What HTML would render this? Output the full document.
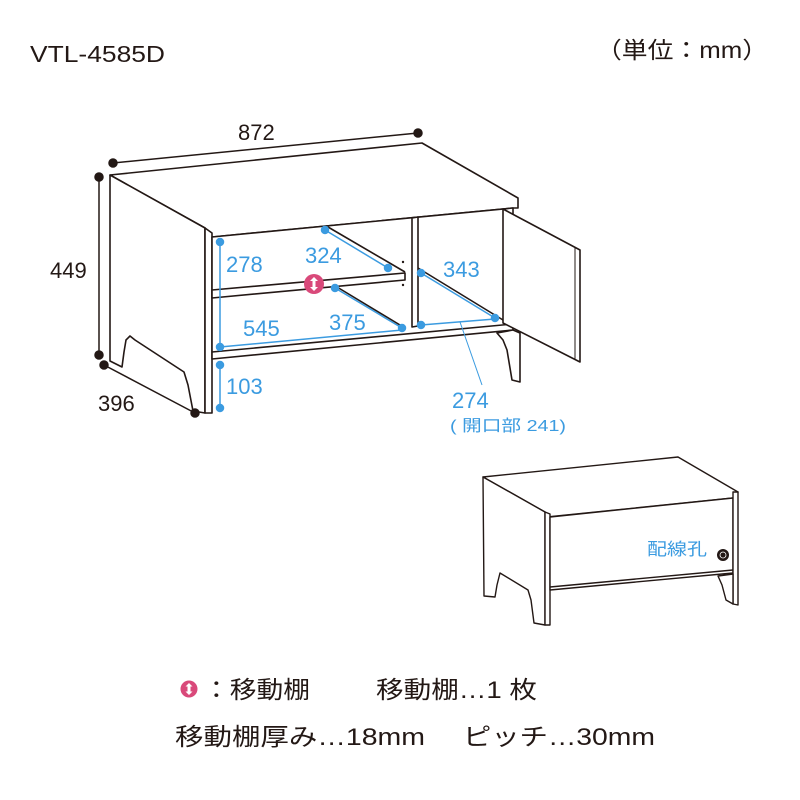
<!DOCTYPE html>
<html><head><meta charset="utf-8"><style>
html,body{margin:0;padding:0;background:#fff;width:800px;height:800px;overflow:hidden}
svg{display:block}
text{font-family:"Liberation Sans","Noto Sans CJK JP",sans-serif}
</style></head><body>
<svg width="800" height="800" viewBox="0 0 800 800" xmlns="http://www.w3.org/2000/svg">
<g fill="#231815" font-size="23">
<text x="30" y="62" textLength="135" lengthAdjust="spacingAndGlyphs">VTL-4585D</text>
<text x="596" y="58" textLength="172" lengthAdjust="spacingAndGlyphs">（単位：mm）</text>
</g>
<!-- main cabinet -->
<g fill="#fff" stroke="#231815" stroke-width="1.6" stroke-linejoin="round">
<polygon points="110,175 422,143 518,198 518,208 513,208 212,237 205,228"/>
<polygon points="110,175 205,228 205,413 193,411 188,385 184,372 135,340 130,336 126,340 124,352 122,367 110,361"/>
<polygon points="205,228 212,233 212,413 205,413"/>
<polygon points="212,237 513,208 513,330 212,359"/>
<polyline points="328,227 405,272" fill="none"/>
<polyline points="337,287 405,328" fill="none"/>
<polyline points="418,268 503,320" fill="none"/>
<polygon points="212,290 405,273 405,280 212,298"/>
<polygon points="412,218 418,217 418,326 412,327"/>
<polyline points="212,352 513,324" fill="none"/>
<polygon points="497,333 513,330 520,333 520,382 512,380 507,350 503,340"/>
<polygon points="503,209 580,250 580,362 503,323"/>
<polyline points="575,248 575,360" fill="none" stroke-width="1"/>
</g>
<circle cx="403" cy="262" r="1.2" fill="#231815"/><circle cx="403" cy="285" r="1.2" fill="#231815"/>
<!-- black dims -->
<g stroke="#231815" stroke-width="1.5" fill="#231815">
<line x1="113" y1="163" x2="418" y2="133"/>
<circle cx="113" cy="163" r="4"/><circle cx="418" cy="133" r="4"/>
<line x1="99" y1="177" x2="99" y2="355"/>
<circle cx="99" cy="177" r="4"/><circle cx="99" cy="355" r="4"/>
<line x1="104" y1="365" x2="195" y2="413"/>
<circle cx="104" cy="365" r="4"/><circle cx="195" cy="413" r="4"/>
</g>
<g fill="#231815" font-size="22">
<text x="238" y="140">872</text>
<text x="50" y="278">449</text>
<text x="98" y="411">396</text>
</g>
<!-- blue dims -->
<g stroke="#3b9be0" stroke-width="1.5" fill="#3b9be0">
<line x1="220" y1="242" x2="220" y2="347"/><circle cx="220" cy="242" r="3.5"/><circle cx="220" cy="347" r="3.5"/>
<line x1="220" y1="365" x2="220" y2="408"/><circle cx="220" cy="365" r="3.5"/><circle cx="220" cy="408" r="3.5"/>
<line x1="220" y1="347" x2="402" y2="330"/><circle cx="402" cy="328" r="3.5"/>
<line x1="325" y1="230" x2="388" y2="268"/><circle cx="325" cy="230" r="3.5"/><circle cx="388" cy="268" r="3.5"/>
<line x1="335" y1="288" x2="402" y2="328"/><circle cx="335" cy="288" r="3.5"/>
<line x1="421" y1="273" x2="495" y2="318"/><circle cx="421" cy="273" r="3.5"/><circle cx="495" cy="318" r="3.5"/>
<line x1="421" y1="325" x2="495" y2="319"/><circle cx="421" cy="325" r="3.5"/>
<line x1="460" y1="322" x2="482" y2="385" stroke-width="1"/>
</g>
<g fill="#3b9be0" font-size="22">
<text x="226" y="272">278</text>
<text x="305" y="263">324</text>
<text x="443" y="277">343</text>
<text x="243" y="336">545</text>
<text x="329" y="330">375</text>
<text x="226" y="394">103</text>
<text x="452" y="408">274</text>
<text x="450" y="431" font-size="16" textLength="116" lengthAdjust="spacingAndGlyphs">( 開口部 241)</text>
</g>
<circle cx="314" cy="284" r="10" fill="#d9497a"/>
<path d="M314,277 l4,4 h-2.5 v6 h2.5 l-4,4 l-4,-4 h2.5 v-6 h-2.5z" fill="#fff"/>
<!-- small cabinet -->
<g fill="#fff" stroke="#231815" stroke-width="1.4" stroke-linejoin="round">
<polygon points="483,477 678,457 738,492 733,498 547,517 545,512"/>
<polygon points="483,477 545,512 545,625 534,623 531,600 528,590 500,573 497,585 495,597 484,596"/>
<polygon points="545,512 550,514 550,625 545,625"/>
<polygon points="550,517 733,498 733,573 550,590"/>
<polyline points="550,587 733,570" fill="none"/>
<polygon points="733,492 738,492 738,605 733,604"/>
<polygon points="718,576 733,574 733,604 726,600 722,585"/>
</g>
<circle cx="723" cy="555" r="6" fill="#231815"/>
<circle cx="723" cy="555" r="3" fill="none" stroke="#fff" stroke-width="0.8"/>
<text x="647" y="555" fill="#3b9be0" font-size="17" textLength="60" lengthAdjust="spacingAndGlyphs">配線孔</text>
<!-- legend -->
<circle cx="189" cy="689" r="8.5" fill="#d9497a"/>
<path d="M189,683 l3.5,3.5 h-2 v5 h2 l-3.5,3.5 l-3.5,-3.5 h2 v-5 h-2z" fill="#fff"/>
<g fill="#231815" font-size="24">
<text x="203" y="698" textLength="107" lengthAdjust="spacingAndGlyphs">：移動棚</text>
<text x="376" y="698" textLength="161" lengthAdjust="spacingAndGlyphs">移動棚…1 枚</text>
<text x="175" y="745" textLength="250" lengthAdjust="spacingAndGlyphs">移動棚厚み…18mm</text>
<text x="463" y="745" textLength="192" lengthAdjust="spacingAndGlyphs">ピッチ…30mm</text>
</g>
</svg>
</body></html>
